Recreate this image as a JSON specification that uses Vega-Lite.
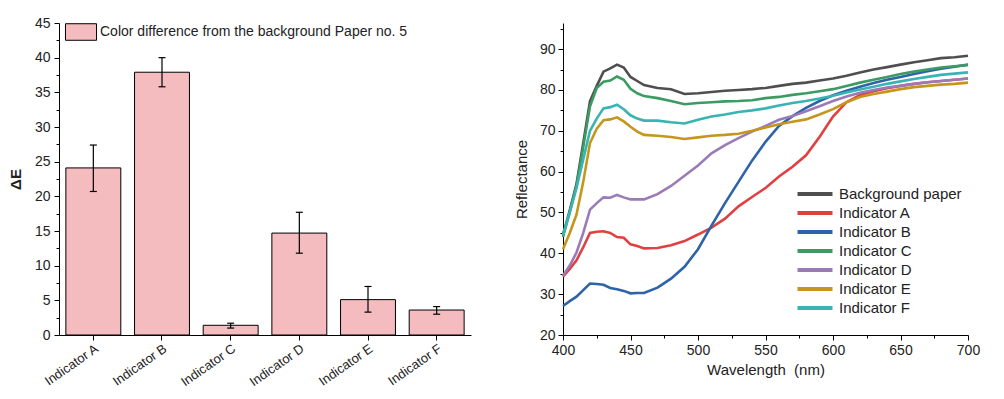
{
  "$schema": "https://vega.github.io/schema/vega-lite/v6.json",
  "padding": {"left": 8, "top": 16, "right": 5, "bottom": 5},
  "bounds": "flush",
  "spacing": 92,
  "resolve": {"scale": {"color": "independent"}, "legend": {"color": "independent"}},
  "config": {
    "font": "Liberation Sans",
    "view": {"stroke": null},
    "axis": {"domainColor": "black", "tickColor": "black", "labelColor": "#222", "titleColor": "#222", "grid": false, "labelFont": "Liberation Sans", "titleFont": "Liberation Sans", "domainWidth": 1, "tickWidth": 1, "labelOverlap": false, "labelFlush": false, "labelBound": false},
    "legend": {"labelFont": "Liberation Sans", "labelColor": "#222", "padding": 0, "labelLimit": 0}
  },
  "hconcat": [
    {
      "width": 412,
      "height": 312,
      "data": {"values": [
        {"indicator": "Indicator A", "dE": 24.1, "lo": 20.7, "hi": 27.4},
        {"indicator": "Indicator B", "dE": 37.9, "lo": 35.8, "hi": 40.0},
        {"indicator": "Indicator C", "dE": 1.4, "lo": 1.0, "hi": 1.7},
        {"indicator": "Indicator D", "dE": 14.7, "lo": 11.8, "hi": 17.7},
        {"indicator": "Indicator E", "dE": 5.1, "lo": 3.3, "hi": 7.0},
        {"indicator": "Indicator F", "dE": 3.6, "lo": 3.0, "hi": 4.1}
      ]},
      "encoding": {
        "x": {"field": "indicator", "type": "nominal", "sort": null,
          "scale": {"paddingInner": 0.2, "paddingOuter": 0.1},
          "axis": {"title": null, "labelAngle": -35, "labelAlign": "right", "labelBaseline": "top", "labelFontSize": 13, "tickSize": 5, "labelPadding": 2}}
      },
      "layer": [
        {
          "mark": {"type": "bar", "stroke": "black", "strokeWidth": 1},
          "encoding": {
            "y": {"field": "dE", "type": "quantitative", "title": "ΔE",
              "scale": {"domain": [0, 45], "nice": false},
              "axis": {"values": [0, 2.5, 5, 7.5, 10, 12.5, 15, 17.5, 20, 22.5, 25, 27.5, 30, 32.5, 35, 37.5, 40, 42.5, 45],
                "labelExpr": "datum.value % 5 === 0 ? datum.label : ''",
                "tickSize": {"condition": {"test": "datum.value % 5 !== 0", "value": 3}, "value": 5},
                "labelFontSize": 14, "labelPadding": 4, "titleFontSize": 15, "titleFontWeight": "bold", "titlePadding": 11}},
            "color": {"datum": "Color difference from the background Paper no. 5", "type": "nominal",
              "scale": {"range": ["#f4bcbf"]},
              "legend": {"title": null, "orient": "none", "legendX": 11, "legendY": -2,
                "symbolType": "M-1.5,-0.8H1.5V0.8H-1.5Z", "symbolSize": 428, "symbolStrokeColor": "black", "symbolStrokeWidth": 1, "symbolOpacity": 1,
                "labelFontSize": 14, "labelOffset": 8}}
          }
        },
        {
          "mark": {"type": "rule", "color": "black", "strokeWidth": 1.2},
          "encoding": {
            "y": {"field": "lo", "type": "quantitative", "title": "ΔE",
              "scale": {"domain": [0, 45], "nice": false},
              "axis": {"values": [0, 2.5, 5, 7.5, 10, 12.5, 15, 17.5, 20, 22.5, 25, 27.5, 30, 32.5, 35, 37.5, 40, 42.5, 45],
                "labelExpr": "datum.value % 5 === 0 ? datum.label : ''",
                "tickSize": {"condition": {"test": "datum.value % 5 !== 0", "value": 3}, "value": 5},
                "labelFontSize": 14, "labelPadding": 4, "titleFontSize": 15, "titleFontWeight": "bold", "titlePadding": 11}},
            "y2": {"field": "hi"}}
        },
        {
          "mark": {"type": "tick", "color": "black", "thickness": 1.2, "size": 7, "opacity": 1},
          "encoding": {
            "y": {"field": "lo", "type": "quantitative", "title": "ΔE",
              "scale": {"domain": [0, 45], "nice": false},
              "axis": {"values": [0, 2.5, 5, 7.5, 10, 12.5, 15, 17.5, 20, 22.5, 25, 27.5, 30, 32.5, 35, 37.5, 40, 42.5, 45],
                "labelExpr": "datum.value % 5 === 0 ? datum.label : ''",
                "tickSize": {"condition": {"test": "datum.value % 5 !== 0", "value": 3}, "value": 5},
                "labelFontSize": 14, "labelPadding": 4, "titleFontSize": 15, "titleFontWeight": "bold", "titlePadding": 11}}}
        },
        {
          "mark": {"type": "tick", "color": "black", "thickness": 1.2, "size": 7, "opacity": 1},
          "encoding": {
            "y": {"field": "hi", "type": "quantitative", "title": "ΔE",
              "scale": {"domain": [0, 45], "nice": false},
              "axis": {"values": [0, 2.5, 5, 7.5, 10, 12.5, 15, 17.5, 20, 22.5, 25, 27.5, 30, 32.5, 35, 37.5, 40, 42.5, 45],
                "labelExpr": "datum.value % 5 === 0 ? datum.label : ''",
                "tickSize": {"condition": {"test": "datum.value % 5 !== 0", "value": 3}, "value": 5},
                "labelFontSize": 14, "labelPadding": 4, "titleFontSize": 15, "titleFontWeight": "bold", "titlePadding": 11}}}
        }
      ]
    },
    {
      "width": 405,
      "height": 312,
      "data": {"values": [
        {"s": "Background paper", "nm": 400, "R": 44.5}, {"s": "Background paper", "nm": 405, "R": 50.5}, {"s": "Background paper", "nm": 410, "R": 57}, {"s": "Background paper", "nm": 415, "R": 67}, {"s": "Background paper", "nm": 420, "R": 77.3}, {"s": "Background paper", "nm": 425, "R": 81}, {"s": "Background paper", "nm": 430, "R": 84.5}, {"s": "Background paper", "nm": 435, "R": 85.3}, {"s": "Background paper", "nm": 440, "R": 86.2}, {"s": "Background paper", "nm": 445, "R": 85.5}, {"s": "Background paper", "nm": 450, "R": 83.2}, {"s": "Background paper", "nm": 455, "R": 82.2}, {"s": "Background paper", "nm": 460, "R": 81.2}, {"s": "Background paper", "nm": 470, "R": 80.5}, {"s": "Background paper", "nm": 480, "R": 80.2}, {"s": "Background paper", "nm": 490, "R": 79}, {"s": "Background paper", "nm": 500, "R": 79.2}, {"s": "Background paper", "nm": 510, "R": 79.5}, {"s": "Background paper", "nm": 520, "R": 79.8}, {"s": "Background paper", "nm": 530, "R": 80}, {"s": "Background paper", "nm": 540, "R": 80.2}, {"s": "Background paper", "nm": 550, "R": 80.5}, {"s": "Background paper", "nm": 560, "R": 81}, {"s": "Background paper", "nm": 570, "R": 81.5}, {"s": "Background paper", "nm": 580, "R": 81.8}, {"s": "Background paper", "nm": 590, "R": 82.3}, {"s": "Background paper", "nm": 600, "R": 82.8}, {"s": "Background paper", "nm": 610, "R": 83.5}, {"s": "Background paper", "nm": 620, "R": 84.3}, {"s": "Background paper", "nm": 630, "R": 85}, {"s": "Background paper", "nm": 640, "R": 85.6}, {"s": "Background paper", "nm": 650, "R": 86.2}, {"s": "Background paper", "nm": 660, "R": 86.8}, {"s": "Background paper", "nm": 670, "R": 87.3}, {"s": "Background paper", "nm": 680, "R": 87.8}, {"s": "Background paper", "nm": 690, "R": 88}, {"s": "Background paper", "nm": 700, "R": 88.4},
        {"s": "Indicator A", "nm": 400, "R": 34.3}, {"s": "Indicator A", "nm": 405, "R": 36.2}, {"s": "Indicator A", "nm": 410, "R": 38.3}, {"s": "Indicator A", "nm": 415, "R": 41.5}, {"s": "Indicator A", "nm": 420, "R": 45}, {"s": "Indicator A", "nm": 425, "R": 45.3}, {"s": "Indicator A", "nm": 430, "R": 45.4}, {"s": "Indicator A", "nm": 435, "R": 45}, {"s": "Indicator A", "nm": 440, "R": 44}, {"s": "Indicator A", "nm": 445, "R": 43.8}, {"s": "Indicator A", "nm": 450, "R": 42.2}, {"s": "Indicator A", "nm": 455, "R": 41.8}, {"s": "Indicator A", "nm": 460, "R": 41.2}, {"s": "Indicator A", "nm": 470, "R": 41.3}, {"s": "Indicator A", "nm": 480, "R": 42}, {"s": "Indicator A", "nm": 490, "R": 43}, {"s": "Indicator A", "nm": 500, "R": 44.6}, {"s": "Indicator A", "nm": 510, "R": 46.3}, {"s": "Indicator A", "nm": 520, "R": 48.5}, {"s": "Indicator A", "nm": 530, "R": 51.5}, {"s": "Indicator A", "nm": 540, "R": 53.8}, {"s": "Indicator A", "nm": 550, "R": 56}, {"s": "Indicator A", "nm": 560, "R": 58.8}, {"s": "Indicator A", "nm": 570, "R": 61.2}, {"s": "Indicator A", "nm": 580, "R": 64}, {"s": "Indicator A", "nm": 590, "R": 68.5}, {"s": "Indicator A", "nm": 600, "R": 73.5}, {"s": "Indicator A", "nm": 610, "R": 77}, {"s": "Indicator A", "nm": 620, "R": 78.8}, {"s": "Indicator A", "nm": 630, "R": 79.7}, {"s": "Indicator A", "nm": 640, "R": 80.4}, {"s": "Indicator A", "nm": 650, "R": 81}, {"s": "Indicator A", "nm": 660, "R": 81.5}, {"s": "Indicator A", "nm": 670, "R": 81.9}, {"s": "Indicator A", "nm": 680, "R": 82.2}, {"s": "Indicator A", "nm": 690, "R": 82.5}, {"s": "Indicator A", "nm": 700, "R": 82.8},
        {"s": "Indicator B", "nm": 400, "R": 27.1}, {"s": "Indicator B", "nm": 405, "R": 28.3}, {"s": "Indicator B", "nm": 410, "R": 29.4}, {"s": "Indicator B", "nm": 415, "R": 31}, {"s": "Indicator B", "nm": 420, "R": 32.6}, {"s": "Indicator B", "nm": 425, "R": 32.5}, {"s": "Indicator B", "nm": 430, "R": 32.3}, {"s": "Indicator B", "nm": 435, "R": 31.5}, {"s": "Indicator B", "nm": 440, "R": 31.2}, {"s": "Indicator B", "nm": 445, "R": 30.8}, {"s": "Indicator B", "nm": 450, "R": 30.2}, {"s": "Indicator B", "nm": 455, "R": 30.3}, {"s": "Indicator B", "nm": 460, "R": 30.3}, {"s": "Indicator B", "nm": 470, "R": 31.6}, {"s": "Indicator B", "nm": 480, "R": 33.8}, {"s": "Indicator B", "nm": 490, "R": 36.7}, {"s": "Indicator B", "nm": 500, "R": 41}, {"s": "Indicator B", "nm": 510, "R": 46.8}, {"s": "Indicator B", "nm": 520, "R": 52.3}, {"s": "Indicator B", "nm": 530, "R": 57.5}, {"s": "Indicator B", "nm": 540, "R": 62.7}, {"s": "Indicator B", "nm": 550, "R": 67.3}, {"s": "Indicator B", "nm": 560, "R": 71.2}, {"s": "Indicator B", "nm": 570, "R": 73.6}, {"s": "Indicator B", "nm": 580, "R": 75.6}, {"s": "Indicator B", "nm": 590, "R": 77.3}, {"s": "Indicator B", "nm": 600, "R": 78.7}, {"s": "Indicator B", "nm": 610, "R": 79.8}, {"s": "Indicator B", "nm": 620, "R": 80.8}, {"s": "Indicator B", "nm": 630, "R": 81.7}, {"s": "Indicator B", "nm": 640, "R": 82.5}, {"s": "Indicator B", "nm": 650, "R": 83.2}, {"s": "Indicator B", "nm": 660, "R": 83.9}, {"s": "Indicator B", "nm": 670, "R": 84.6}, {"s": "Indicator B", "nm": 680, "R": 85.2}, {"s": "Indicator B", "nm": 690, "R": 85.7}, {"s": "Indicator B", "nm": 700, "R": 86.2},
        {"s": "Indicator C", "nm": 400, "R": 44}, {"s": "Indicator C", "nm": 405, "R": 50}, {"s": "Indicator C", "nm": 410, "R": 56.5}, {"s": "Indicator C", "nm": 415, "R": 66}, {"s": "Indicator C", "nm": 420, "R": 76}, {"s": "Indicator C", "nm": 425, "R": 80.5}, {"s": "Indicator C", "nm": 430, "R": 82}, {"s": "Indicator C", "nm": 435, "R": 82.3}, {"s": "Indicator C", "nm": 440, "R": 83.3}, {"s": "Indicator C", "nm": 445, "R": 82.5}, {"s": "Indicator C", "nm": 450, "R": 80.3}, {"s": "Indicator C", "nm": 455, "R": 79.2}, {"s": "Indicator C", "nm": 460, "R": 78.5}, {"s": "Indicator C", "nm": 470, "R": 78}, {"s": "Indicator C", "nm": 480, "R": 77.3}, {"s": "Indicator C", "nm": 490, "R": 76.5}, {"s": "Indicator C", "nm": 500, "R": 76.8}, {"s": "Indicator C", "nm": 510, "R": 77}, {"s": "Indicator C", "nm": 520, "R": 77.2}, {"s": "Indicator C", "nm": 530, "R": 77.3}, {"s": "Indicator C", "nm": 540, "R": 77.5}, {"s": "Indicator C", "nm": 550, "R": 78}, {"s": "Indicator C", "nm": 560, "R": 78.3}, {"s": "Indicator C", "nm": 570, "R": 78.8}, {"s": "Indicator C", "nm": 580, "R": 79.2}, {"s": "Indicator C", "nm": 590, "R": 79.7}, {"s": "Indicator C", "nm": 600, "R": 80.2}, {"s": "Indicator C", "nm": 610, "R": 81}, {"s": "Indicator C", "nm": 620, "R": 81.8}, {"s": "Indicator C", "nm": 630, "R": 82.5}, {"s": "Indicator C", "nm": 640, "R": 83.2}, {"s": "Indicator C", "nm": 650, "R": 83.9}, {"s": "Indicator C", "nm": 660, "R": 84.5}, {"s": "Indicator C", "nm": 670, "R": 85}, {"s": "Indicator C", "nm": 680, "R": 85.5}, {"s": "Indicator C", "nm": 690, "R": 85.8}, {"s": "Indicator C", "nm": 700, "R": 86.1},
        {"s": "Indicator D", "nm": 400, "R": 34.5}, {"s": "Indicator D", "nm": 405, "R": 37}, {"s": "Indicator D", "nm": 410, "R": 40.2}, {"s": "Indicator D", "nm": 415, "R": 45}, {"s": "Indicator D", "nm": 420, "R": 50.7}, {"s": "Indicator D", "nm": 425, "R": 52.3}, {"s": "Indicator D", "nm": 430, "R": 53.7}, {"s": "Indicator D", "nm": 435, "R": 53.6}, {"s": "Indicator D", "nm": 440, "R": 54.3}, {"s": "Indicator D", "nm": 445, "R": 53.7}, {"s": "Indicator D", "nm": 450, "R": 53.2}, {"s": "Indicator D", "nm": 455, "R": 53.2}, {"s": "Indicator D", "nm": 460, "R": 53.2}, {"s": "Indicator D", "nm": 470, "R": 54.5}, {"s": "Indicator D", "nm": 480, "R": 56.5}, {"s": "Indicator D", "nm": 490, "R": 59}, {"s": "Indicator D", "nm": 500, "R": 61.5}, {"s": "Indicator D", "nm": 510, "R": 64.5}, {"s": "Indicator D", "nm": 520, "R": 66.5}, {"s": "Indicator D", "nm": 530, "R": 68.2}, {"s": "Indicator D", "nm": 540, "R": 69.8}, {"s": "Indicator D", "nm": 550, "R": 71.2}, {"s": "Indicator D", "nm": 560, "R": 72.7}, {"s": "Indicator D", "nm": 570, "R": 73.6}, {"s": "Indicator D", "nm": 580, "R": 74.8}, {"s": "Indicator D", "nm": 590, "R": 76}, {"s": "Indicator D", "nm": 600, "R": 77.3}, {"s": "Indicator D", "nm": 610, "R": 78.4}, {"s": "Indicator D", "nm": 620, "R": 79.3}, {"s": "Indicator D", "nm": 630, "R": 80}, {"s": "Indicator D", "nm": 640, "R": 80.6}, {"s": "Indicator D", "nm": 650, "R": 81}, {"s": "Indicator D", "nm": 660, "R": 81.5}, {"s": "Indicator D", "nm": 670, "R": 81.9}, {"s": "Indicator D", "nm": 680, "R": 82.2}, {"s": "Indicator D", "nm": 690, "R": 82.5}, {"s": "Indicator D", "nm": 700, "R": 82.8},
        {"s": "Indicator E", "nm": 400, "R": 41}, {"s": "Indicator E", "nm": 405, "R": 45}, {"s": "Indicator E", "nm": 410, "R": 49.5}, {"s": "Indicator E", "nm": 415, "R": 57.5}, {"s": "Indicator E", "nm": 420, "R": 67}, {"s": "Indicator E", "nm": 425, "R": 70.5}, {"s": "Indicator E", "nm": 430, "R": 72.6}, {"s": "Indicator E", "nm": 435, "R": 72.8}, {"s": "Indicator E", "nm": 440, "R": 73.3}, {"s": "Indicator E", "nm": 445, "R": 72.3}, {"s": "Indicator E", "nm": 450, "R": 71}, {"s": "Indicator E", "nm": 455, "R": 69.8}, {"s": "Indicator E", "nm": 460, "R": 69}, {"s": "Indicator E", "nm": 470, "R": 68.8}, {"s": "Indicator E", "nm": 480, "R": 68.5}, {"s": "Indicator E", "nm": 490, "R": 68}, {"s": "Indicator E", "nm": 500, "R": 68.4}, {"s": "Indicator E", "nm": 510, "R": 68.8}, {"s": "Indicator E", "nm": 520, "R": 69}, {"s": "Indicator E", "nm": 530, "R": 69.3}, {"s": "Indicator E", "nm": 540, "R": 70}, {"s": "Indicator E", "nm": 550, "R": 70.8}, {"s": "Indicator E", "nm": 560, "R": 71.6}, {"s": "Indicator E", "nm": 570, "R": 72.2}, {"s": "Indicator E", "nm": 580, "R": 72.8}, {"s": "Indicator E", "nm": 590, "R": 74}, {"s": "Indicator E", "nm": 600, "R": 75.3}, {"s": "Indicator E", "nm": 610, "R": 77}, {"s": "Indicator E", "nm": 620, "R": 78.3}, {"s": "Indicator E", "nm": 630, "R": 79}, {"s": "Indicator E", "nm": 640, "R": 79.6}, {"s": "Indicator E", "nm": 650, "R": 80.2}, {"s": "Indicator E", "nm": 660, "R": 80.7}, {"s": "Indicator E", "nm": 670, "R": 81}, {"s": "Indicator E", "nm": 680, "R": 81.3}, {"s": "Indicator E", "nm": 690, "R": 81.5}, {"s": "Indicator E", "nm": 700, "R": 81.8},
        {"s": "Indicator F", "nm": 400, "R": 44.5}, {"s": "Indicator F", "nm": 405, "R": 50}, {"s": "Indicator F", "nm": 410, "R": 56}, {"s": "Indicator F", "nm": 415, "R": 63}, {"s": "Indicator F", "nm": 420, "R": 70}, {"s": "Indicator F", "nm": 425, "R": 73}, {"s": "Indicator F", "nm": 430, "R": 75.5}, {"s": "Indicator F", "nm": 435, "R": 75.8}, {"s": "Indicator F", "nm": 440, "R": 76.4}, {"s": "Indicator F", "nm": 445, "R": 75.3}, {"s": "Indicator F", "nm": 450, "R": 73.8}, {"s": "Indicator F", "nm": 455, "R": 73}, {"s": "Indicator F", "nm": 460, "R": 72.5}, {"s": "Indicator F", "nm": 470, "R": 72.5}, {"s": "Indicator F", "nm": 480, "R": 72.1}, {"s": "Indicator F", "nm": 490, "R": 71.8}, {"s": "Indicator F", "nm": 500, "R": 72.7}, {"s": "Indicator F", "nm": 510, "R": 73.5}, {"s": "Indicator F", "nm": 520, "R": 74}, {"s": "Indicator F", "nm": 530, "R": 74.6}, {"s": "Indicator F", "nm": 540, "R": 75}, {"s": "Indicator F", "nm": 550, "R": 75.5}, {"s": "Indicator F", "nm": 560, "R": 76.2}, {"s": "Indicator F", "nm": 570, "R": 76.8}, {"s": "Indicator F", "nm": 580, "R": 77.3}, {"s": "Indicator F", "nm": 590, "R": 77.9}, {"s": "Indicator F", "nm": 600, "R": 78.6}, {"s": "Indicator F", "nm": 610, "R": 79.4}, {"s": "Indicator F", "nm": 620, "R": 80.1}, {"s": "Indicator F", "nm": 630, "R": 80.8}, {"s": "Indicator F", "nm": 640, "R": 81.5}, {"s": "Indicator F", "nm": 650, "R": 82.1}, {"s": "Indicator F", "nm": 660, "R": 82.7}, {"s": "Indicator F", "nm": 670, "R": 83.2}, {"s": "Indicator F", "nm": 680, "R": 83.7}, {"s": "Indicator F", "nm": 690, "R": 84}, {"s": "Indicator F", "nm": 700, "R": 84.3}
      ]},
      "mark": {"type": "line", "strokeWidth": 2.6},
      "encoding": {
        "x": {"field": "nm", "type": "quantitative", "title": "Wavelength \u00a0(nm)",
          "scale": {"domain": [400, 700], "nice": false, "zero": false},
          "axis": {"values": [400, 425, 450, 475, 500, 525, 550, 575, 600, 625, 650, 675, 700],
            "labelExpr": "datum.value % 50 === 0 ? datum.label : ''",
            "tickSize": {"condition": {"test": "datum.value % 50 !== 0", "value": 3}, "value": 5},
            "labelFontSize": 14, "labelPadding": 3, "titleFontSize": 15, "titleFontWeight": "normal", "titlePadding": 5}},
        "y": {"field": "R", "type": "quantitative", "title": "Reflectance",
          "scale": {"domain": [20, 96.4], "nice": false, "zero": false},
          "axis": {"values": [20, 25, 30, 35, 40, 45, 50, 55, 60, 65, 70, 75, 80, 85, 90, 95],
            "labelExpr": "datum.value % 10 === 0 ? datum.label : ''",
            "tickSize": {"condition": {"test": "datum.value % 10 !== 0", "value": 3}, "value": 5},
            "labelFontSize": 14, "labelPadding": 3, "titleFontSize": 15, "titleFontWeight": "normal", "titlePadding": 10}},
        "color": {"field": "s", "type": "nominal",
          "scale": {"domain": ["Background paper", "Indicator A", "Indicator B", "Indicator C", "Indicator D", "Indicator E", "Indicator F"],
            "range": ["#4f4f4f", "#e0403f", "#2e63a8", "#3b9b62", "#9a7bb7", "#c4961c", "#38b5b3"]},
          "legend": {"title": null, "orient": "none", "legendX": 244, "legendY": 163,
            "symbolType": "M-3,0H3", "symbolSize": 136, "symbolStrokeWidth": 4,
            "labelFontSize": 15, "labelOffset": 16, "rowPadding": 3}}
      }
    }
  ]
}
